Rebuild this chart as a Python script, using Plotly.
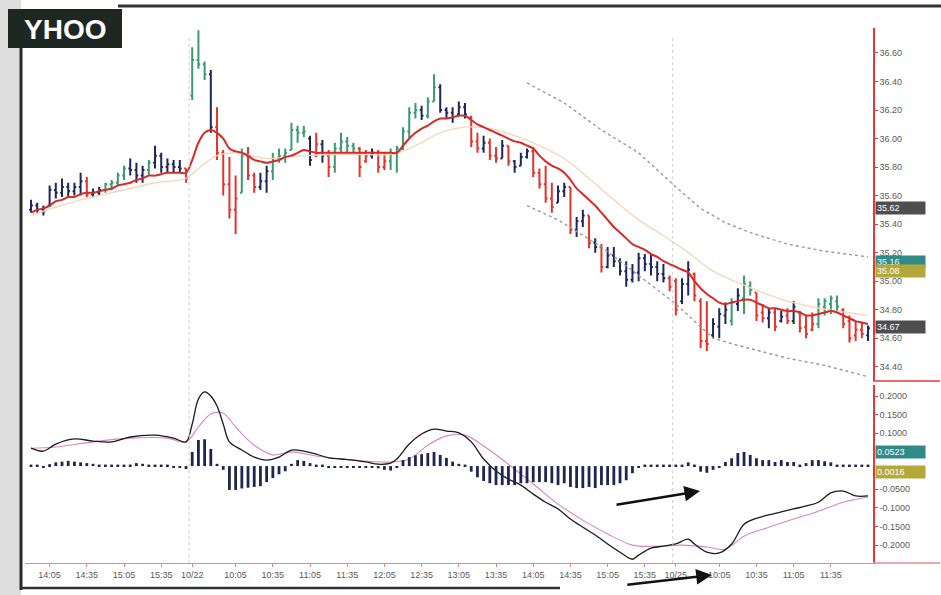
import plotly.graph_objects as go

# ---------------- DATA ----------------
# x axis: one 5-minute bar per index; tick labels at these bar indices
tick_idx = [3, 9, 15, 21, 26, 33, 39, 45, 51, 57, 63, 69, 75, 81, 87, 93, 99, 104, 111, 117, 123, 129]
tick_text = ["14:05", "14:35", "15:05", "15:35", "10/22", "10:05", "10:35", "11:05", "11:35",
             "12:05", "12:35", "13:05", "13:35", "14:05", "14:35", "15:05", "15:35", "10/25",
             "10:05", "10:35", "11:05", "11:35"]
day_starts = [26, 104]

bar_high = [
    35.57, 35.55, 35.53, 35.67, 35.69, 35.72, 35.69, 35.69, 35.76, 35.73,
    35.65, 35.66, 35.69, 35.71, 35.76, 35.81, 35.86, 35.83, 35.81, 35.85,
    35.95, 35.90, 35.86, 35.85, 35.85, 35.79,
    36.64, 36.76, 36.54, 36.48, 36.22, 35.92, 35.87, 35.74, 35.93, 35.94,
    35.76, 35.76, 35.81, 35.90, 35.93, 35.93, 36.11, 36.09, 36.09, 36.02,
    36.04, 35.99, 35.92, 35.97, 36.04, 36.01, 35.97, 35.94, 35.92, 35.93,
    35.92, 35.90, 35.93, 35.95, 36.08, 36.22, 36.25, 36.23, 36.29, 36.45,
    36.38, 36.22, 36.22, 36.26, 36.25, 36.16, 36.04, 36.02, 36.00, 35.94,
    35.99, 35.95, 35.85, 35.90, 35.93, 35.94, 35.79, 35.81, 35.69, 35.67,
    35.69, 35.66, 35.45, 35.50, 35.46, 35.30, 35.26, 35.24, 35.24, 35.16,
    35.14, 35.12, 35.20, 35.19, 35.19, 35.14, 35.12, 35.04,
    35.02, 35.02, 35.14, 35.06, 34.88, 34.86, 34.74, 34.81, 34.85, 34.88,
    34.95, 35.04, 35.00, 34.92, 34.84, 34.81, 34.81, 34.79, 34.81, 34.86,
    34.79, 34.76, 34.78, 34.88, 34.88, 34.90, 34.90, 34.81, 34.76, 34.72,
    34.71, 34.69]
bar_low = [
    35.48, 35.48, 35.46, 35.52, 35.58, 35.59, 35.59, 35.60, 35.60, 35.59,
    35.59, 35.60, 35.62, 35.64, 35.67, 35.71, 35.74, 35.69, 35.69, 35.74,
    35.79, 35.76, 35.76, 35.76, 35.76, 35.69,
    36.27, 36.49, 36.41, 36.04, 35.85, 35.60, 35.44, 35.33, 35.62, 35.71,
    35.62, 35.64, 35.62, 35.71, 35.83, 35.83, 35.92, 35.97, 36.01, 35.81,
    35.87, 35.83, 35.73, 35.76, 35.90, 35.90, 35.90, 35.73, 35.83, 35.86,
    35.76, 35.78, 35.78, 35.76, 35.92, 36.00, 36.14, 36.13, 36.14, 36.26,
    36.18, 36.14, 36.11, 36.16, 36.14, 35.94, 35.90, 35.90, 35.85, 35.83,
    35.86, 35.81, 35.76, 35.81, 35.86, 35.73, 35.65, 35.55, 35.48, 35.55,
    35.59, 35.33, 35.31, 35.38, 35.23, 35.20, 35.06, 35.09, 35.10, 35.04,
    34.96, 34.99, 35.00, 35.07, 35.04, 35.00, 34.99, 34.93,
    34.76, 34.84, 34.90, 34.86, 34.53, 34.51, 34.60, 34.60, 34.70, 34.69,
    34.79, 34.77, 34.90, 34.72, 34.71, 34.67, 34.65, 34.71, 34.70, 34.70,
    34.64, 34.60, 34.65, 34.67, 34.76, 34.77, 34.78, 34.67, 34.57, 34.58,
    34.60, 34.58]
bar_open = [
    35.50, 35.53, 35.50, 35.53, 35.64, 35.62, 35.66, 35.63, 35.66, 35.70,
    35.61, 35.62, 35.64, 35.68, 35.69, 35.74, 35.79, 35.78, 35.74, 35.78,
    35.83, 35.88, 35.80, 35.82, 35.80, 35.79,
    36.30, 36.55, 36.52, 36.45, 36.08, 35.90, 35.68, 35.50, 35.62, 35.88,
    35.74, 35.66, 35.70, 35.77, 35.86, 35.88, 35.92, 36.06, 36.04, 36.00,
    35.88, 35.96, 35.88, 35.80, 35.93, 35.98, 35.95, 35.93, 35.84, 35.88,
    35.90, 35.80, 35.84, 35.90, 35.93, 36.05, 36.18, 36.20, 36.16, 36.26,
    36.36, 36.20, 36.18, 36.17, 36.22, 36.15, 35.98, 35.93, 35.97, 35.88,
    35.86, 35.95, 35.84, 35.81, 35.87, 35.91, 35.76, 35.68, 35.58, 35.55,
    35.63, 35.66, 35.36, 35.42, 35.46, 35.27, 35.24, 35.10, 35.18, 35.14,
    35.07, 35.01, 35.06, 35.16, 35.12, 35.10, 35.05, 35.02,
    35.00, 34.86, 34.98, 35.05, 34.86, 34.58, 34.62, 34.68, 34.76, 34.72,
    34.84, 34.88, 34.96, 34.92, 34.78, 34.74, 34.78, 34.72, 34.76, 34.72,
    34.78, 34.68, 34.66, 34.70, 34.82, 34.84, 34.86, 34.80, 34.72, 34.62,
    34.66, 34.62]
bar_close = [
    35.53, 35.50, 35.49, 35.64, 35.62, 35.66, 35.63, 35.66, 35.70, 35.61,
    35.62, 35.64, 35.68, 35.69, 35.74, 35.79, 35.78, 35.74, 35.78, 35.83,
    35.88, 35.80, 35.82, 35.80, 35.79, 35.72,
    36.55, 36.52, 36.45, 36.08, 35.90, 35.68, 35.50, 35.58, 35.88, 35.74,
    35.66, 35.70, 35.77, 35.86, 35.88, 35.90, 36.06, 36.04, 36.05, 35.85,
    35.96, 35.88, 35.80, 35.93, 35.98, 35.95, 35.93, 35.80, 35.88, 35.90,
    35.80, 35.84, 35.90, 35.93, 36.05, 36.18, 36.20, 36.16, 36.26, 36.36,
    36.20, 36.18, 36.15, 36.22, 36.17, 35.98, 35.93, 35.97, 35.88, 35.86,
    35.95, 35.84, 35.80, 35.87, 35.91, 35.76, 35.68, 35.58, 35.52, 35.63,
    35.66, 35.36, 35.42, 35.46, 35.27, 35.24, 35.10, 35.18, 35.14, 35.07,
    35.01, 35.06, 35.16, 35.12, 35.10, 35.05, 35.02, 34.96,
    34.80, 34.98, 35.08, 34.90, 34.58, 34.56, 34.70, 34.77, 34.80, 34.85,
    34.90, 34.98, 34.94, 34.76, 34.74, 34.78, 34.68, 34.75, 34.72, 34.82,
    34.67, 34.63, 34.70, 34.84, 34.86, 34.88, 34.82, 34.70, 34.60, 34.66,
    34.63, 34.67]
# impulse colour of each bar: g = green, n = navy, r = red
bar_color = ("nnnnnnnnnrnnggggnnngnnnnnr"
             "gggnrrrrgr" "rnnggggggn" "rnrggggrrn" "rrgggggngg"
             "nnnnnrrnrr" "nrnnnrrrrn" "nrnnrnrnnn" "nnnnnnnr"
             "rnnrrrnnng" "nggrrnrnrn" "rrrggggrrr" "rn")

ema_fast = [
    35.48, 35.50, 35.51, 35.53, 35.56, 35.57, 35.59, 35.59, 35.61, 35.62,
    35.62, 35.63, 35.64, 35.65, 35.67, 35.68, 35.69, 35.71, 35.72, 35.74,
    35.74, 35.75, 35.76, 35.76, 35.76, 35.76,
    35.85, 35.97, 36.04, 36.06, 36.04, 36.00, 35.93, 35.91, 35.90, 35.88,
    35.85, 35.84, 35.83, 35.84, 35.85, 35.87, 35.88, 35.90, 35.92, 35.91,
    35.90, 35.90, 35.90, 35.90, 35.90, 35.90, 35.90, 35.90, 35.90, 35.90,
    35.90, 35.90, 35.90, 35.90, 35.95, 36.00, 36.04, 36.07, 36.09, 36.12,
    36.14, 36.14, 36.15, 36.16, 36.16, 36.13, 36.10, 36.08, 36.06, 36.04,
    36.02, 36.00, 35.98, 35.97, 35.95, 35.93, 35.88, 35.84, 35.81, 35.79,
    35.76, 35.71, 35.65, 35.61, 35.57, 35.53, 35.48, 35.43, 35.38, 35.34,
    35.30, 35.26, 35.24, 35.22, 35.19, 35.17, 35.14, 35.12,
    35.10, 35.08, 35.06, 35.00, 34.95, 34.91, 34.88, 34.85, 34.84, 34.85,
    34.86, 34.87, 34.87, 34.85, 34.83, 34.81, 34.81, 34.80, 34.79, 34.79,
    34.78, 34.76, 34.76, 34.77, 34.78, 34.79, 34.78, 34.76, 34.74, 34.72,
    34.71, 34.70]

slow_idx = [0, 4, 8, 12, 16, 20, 25, 27, 30, 33, 38, 44, 52, 58, 62, 66, 70, 74, 78, 82,
            86, 90, 94, 98, 102, 106, 110, 114, 118, 122, 126, 130, 135]
ema_slow = [35.46, 35.52, 35.57, 35.61, 35.65, 35.69, 35.72, 35.79, 35.88, 35.90, 35.86,
            35.88, 35.89, 35.89, 35.95, 36.04, 36.08, 36.07, 36.02, 35.95, 35.86, 35.72,
            35.57, 35.43, 35.32, 35.20, 35.07, 34.99, 34.92, 34.86, 34.82, 34.79, 34.76]

upper_idx = [80, 86, 92, 98, 104, 108, 112, 116, 122, 128, 135]
upper_band = [36.39, 36.25, 36.06, 35.90, 35.66, 35.51, 35.41, 35.34, 35.26, 35.21, 35.17]
lower_idx = [80, 85, 92, 98, 104, 110, 114, 122, 128, 135]
lower_band = [35.53, 35.43, 35.24, 35.04, 34.84, 34.60, 34.55, 34.46, 34.41, 34.33]

macd_idx = [0, 2, 4, 7, 10, 13, 16, 20, 23, 25, 26, 27, 28, 29, 30, 31, 32, 34, 36, 38,
            40, 42, 44, 46, 48, 50, 52, 54, 56, 58, 59, 61, 63, 65, 67, 69, 71, 73, 75, 77,
            79, 81, 83, 85, 87, 89, 91, 93, 95, 97, 98, 100, 102, 104, 106, 107, 109, 111,
            113, 115, 117, 119, 121, 123, 125, 127, 129, 131, 133, 135]
macd_line = [0.060, 0.052, 0.071, 0.085, 0.079, 0.077, 0.090, 0.095, 0.087, 0.077,
             0.125, 0.192, 0.211, 0.200, 0.173, 0.125, 0.077, 0.055, 0.036, 0.028,
             0.036, 0.055, 0.052, 0.044, 0.034, 0.031, 0.028, 0.023, 0.017, 0.020,
             0.031, 0.071, 0.098, 0.111, 0.106, 0.101, 0.077, 0.031, -0.001, -0.023,
             -0.039, -0.063, -0.085, -0.103, -0.130, -0.152, -0.173, -0.197, -0.219, -0.238,
             -0.227, -0.208, -0.203, -0.197, -0.184, -0.197, -0.219, -0.221, -0.197, -0.144,
             -0.128, -0.119, -0.111, -0.103, -0.095, -0.085, -0.060, -0.055, -0.068, -0.068]
signal_idx = [0, 4, 10, 16, 22, 25, 27, 29, 31, 33, 36, 39, 42, 46, 52, 58, 61, 64, 67, 70,
              73, 77, 81, 85, 89, 93, 97, 101, 105, 109, 112, 115, 119, 123, 127, 131, 135]
signal_line = [0.060, 0.063, 0.077, 0.087, 0.087, 0.077, 0.117, 0.152, 0.154, 0.117,
               0.068, 0.042, 0.050, 0.039, 0.028, 0.023, 0.031, 0.068, 0.093, 0.095,
               0.066, 0.017, -0.036, -0.090, -0.133, -0.170, -0.200, -0.203, -0.200, -0.205,
               -0.211, -0.176, -0.152, -0.130, -0.109, -0.085, -0.071]
histogram = [
    0.004, 0.004, -0.004, 0.005, 0.010, 0.012, 0.014, 0.012, 0.010, 0.008,
    0.006, 0.004, 0.004, 0.004, 0.004, 0.004, 0.004, 0.008, 0.006, 0.004,
    0.004, 0.004, 0.004, -0.004, -0.004, -0.008,
    0.038, 0.070, 0.072, 0.046, 0.006, -0.010, -0.064, -0.064, -0.060, -0.058,
    -0.056, -0.054, -0.043, -0.032, -0.022, -0.014, 0.006, 0.016, 0.014, 0.008,
    0.004, 0.004, -0.005, -0.004, -0.004, -0.004, -0.004, -0.004, -0.004, -0.004,
    -0.006, -0.010, -0.012, -0.004, 0.016, 0.024, 0.029, 0.032, 0.035, 0.038,
    0.030, 0.022, 0.012, 0.006, 0.004, -0.015, -0.030, -0.040, -0.046, -0.051,
    -0.051, -0.051, -0.051, -0.046, -0.046, -0.043, -0.043, -0.043, -0.046, -0.051,
    -0.046, -0.056, -0.059, -0.059, -0.056, -0.059, -0.051, -0.051, -0.051, -0.046,
    -0.038, -0.019, -0.004, 0.004, 0.004, 0.004, 0.004, 0.004,
    0.004, 0.004, 0.010, 0.004, -0.015, -0.018, -0.010, -0.005, 0.011, 0.021,
    0.035, 0.038, 0.030, 0.021, 0.016, 0.016, 0.011, 0.016, 0.011, 0.011,
    0.004, 0.008, 0.016, 0.016, 0.013, 0.010, 0.004, 0.004, 0.004, 0.004,
    0.004, 0.004]

price_ticks = [36.60, 36.40, 36.20, 36.00, 35.80, 35.60, 35.40, 35.20, 35.00, 34.80, 34.60, 34.40]
macd_ticks = [0.20, 0.15, 0.10, -0.05, -0.10, -0.15, -0.20]

# value badges on the right scale: (text, axis, position, colour)
badges = [("35.62", "y", 35.51, "#4e4e4e"), ("35.16", "y", 35.135, "#2f8a88"),
          ("35.08", "y", 35.07, "#b3a93a"), ("34.67", "y", 34.68, "#4e4e4e"),
          ("0.0523", "y2", 0.050, "#2f8a88"), ("0.0016", "y2", -0.003, "#b3a93a")]

n = len(bar_high)
assert len(bar_low) == n and len(bar_open) == n and len(bar_close) == n
assert len(bar_color) == n and len(ema_fast) == n and len(histogram) == n
assert len(slow_idx) == len(ema_slow) and len(macd_idx) == len(macd_line)
assert len(signal_idx) == len(signal_line)

# ---------------- FIGURE ----------------
W, H = 941, 595
ML, MR, MT, MB = 25, 68, 28, 32
PW, PH = W - ML - MR, H - MT - MB


def px(xp):  # figure pixel -> paper x
    return (xp - ML) / PW


def py(yp):  # figure pixel -> paper y
    return (H - MB - yp) / PH


AXIS_RED = "#e23a3a"
TICK_FONT = dict(family="Liberation Sans, Arial, sans-serif", size=9, color="#5a5a5a")
xrange_ = [-0.97, 135.8]

fig = go.Figure()

# bands
fig.add_trace(go.Scatter(x=upper_idx, y=upper_band, mode="lines", xaxis="x", yaxis="y",
                         line=dict(color="#9a9a9a", width=1.4, dash="dot"), hoverinfo="skip"))
fig.add_trace(go.Scatter(x=lower_idx, y=lower_band, mode="lines", xaxis="x", yaxis="y",
                         line=dict(color="#9a9a9a", width=1.4, dash="dot"), hoverinfo="skip"))

# OHLC bars, one trace per impulse colour
bar_palette = {"g": "#3c9a6e", "n": "#1e2858", "r": "#e2342c"}
for key, col in bar_palette.items():
    sel = [i for i, c in enumerate(bar_color) if c == key]
    fig.add_trace(go.Ohlc(
        x=sel,
        open=[bar_open[i] for i in sel], high=[bar_high[i] for i in sel],
        low=[bar_low[i] for i in sel], close=[bar_close[i] for i in sel],
        increasing=dict(line=dict(color=col, width=2)),
        decreasing=dict(line=dict(color=col, width=2)),
        tickwidth=0.3, xaxis="x", yaxis="y", hoverinfo="skip"))

# moving averages
fig.add_trace(go.Scatter(x=slow_idx, y=ema_slow, mode="lines", xaxis="x", yaxis="y",
                         line=dict(color="#f8d6bb", width=1.4, shape="spline"), hoverinfo="skip"))
fig.add_trace(go.Scatter(x=list(range(n)), y=ema_fast, mode="lines", xaxis="x", yaxis="y",
                         line=dict(color="#d42b2b", width=2, shape="spline"), hoverinfo="skip"))

# MACD panel
fig.add_trace(go.Bar(x=list(range(n)), y=histogram, xaxis="x2", yaxis="y3", width=0.45,
                     marker=dict(color="#1e2550", line=dict(width=0)), hoverinfo="skip"))
fig.add_trace(go.Scatter(x=signal_idx, y=signal_line, mode="lines", xaxis="x2", yaxis="y2",
                         line=dict(color="#d786c4", width=1.1, shape="spline"), hoverinfo="skip"))
fig.add_trace(go.Scatter(x=macd_idx, y=macd_line, mode="lines", xaxis="x2", yaxis="y2",
                         line=dict(color="#1b1b1b", width=1.3, shape="spline"), hoverinfo="skip"))

shapes = []
# day separators
for d in day_starts:
    shapes.append(dict(type="line", xref="x", yref="paper", x0=d - 0.5, x1=d - 0.5,
                       y0=0, y1=0.985, line=dict(color="#cfcfcf", width=1, dash="dot")))
# red separators in the scale area
shapes.append(dict(type="line", xref="paper", yref="paper", x0=1, x1=px(940),
                   y0=py(381), y1=py(381), line=dict(color=AXIS_RED, width=1.3)))
shapes.append(dict(type="line", xref="paper", yref="paper", x0=1, x1=px(940),
                   y0=0, y1=0, line=dict(color="#e98a8a", width=1.3)))
# page frame from the scan
shapes.append(dict(type="rect", xref="paper", yref="paper", x0=px(0), x1=px(21),
                   y0=py(595), y1=py(0), fillcolor="#dedede", line=dict(width=0), layer="below"))
shapes.append(dict(type="line", xref="paper", yref="paper", x0=px(21), x1=px(21),
                   y0=py(48), y1=py(590), line=dict(color="#2b2b2b", width=3)))
shapes.append(dict(type="line", xref="paper", yref="paper", x0=px(118), x1=px(941),
                   y0=py(6), y1=py(6), line=dict(color="#333333", width=3)))
shapes.append(dict(type="line", xref="paper", yref="paper", x0=px(21), x1=px(560),
                   y0=py(588), y1=py(588), line=dict(color="#333333", width=2.5)))
shapes.append(dict(type="rect", xref="paper", yref="paper", x0=px(8), x1=px(122),
                   y0=py(48), y1=py(9), fillcolor="#1f2722", line=dict(width=0)))

annotations = [dict(xref="paper", yref="paper", x=px(65), y=py(29), xanchor="center",
                    yanchor="middle", text="<b>YHOO</b>", showarrow=False,
                    font=dict(family="Liberation Sans, Arial", size=28, color="white"))]
for txt, ax_ref, val, col in badges:
    annotations.append(dict(xref="paper", yref=ax_ref, x=px(875), y=val, xanchor="left",
                            yanchor="middle", text=txt, showarrow=False, bgcolor=col,
                            width=47, height=10, borderpad=1, align="left",
                            font=dict(family="Liberation Sans, Arial", size=9, color="white")))
# the two hand-drawn arrows
annotations.append(dict(xref="x2", yref="y2", x=107.9, y=-0.055, ax=-85, ay=14, text="",
                        showarrow=True, arrowhead=2, arrowsize=1.2, arrowwidth=2.6,
                        arrowcolor="#111111"))
annotations.append(dict(xref="x2", yref="paper", x=109.8, y=py(575), ax=-86, ay=10, text="",
                        showarrow=True, arrowhead=2, arrowsize=1.2, arrowwidth=2.6,
                        arrowcolor="#111111"))

fig.update_layout(
    width=W, height=H, margin=dict(l=ML, r=MR, t=MT, b=MB),
    paper_bgcolor="white", plot_bgcolor="white", showlegend=False,
    shapes=shapes, annotations=annotations,
    xaxis=dict(domain=[0, 1], anchor="y", range=xrange_, showticklabels=False, ticks="",
               showgrid=False, zeroline=False, showline=False, rangeslider=dict(visible=False)),
    yaxis=dict(domain=[py(381), 1], anchor="x", side="right", range=[34.30, 36.775],
               tickvals=price_ticks, ticktext=[f"{v:.2f}" for v in price_ticks],
               showgrid=False, zeroline=False, showline=True, linecolor=AXIS_RED, linewidth=1.5,
               ticks="outside", ticklen=3, tickcolor=AXIS_RED, tickfont=TICK_FONT),
    xaxis2=dict(domain=[0, 1], anchor="y2", range=xrange_, tickvals=tick_idx, ticktext=tick_text,
                showgrid=False, zeroline=False, showline=True, linecolor="#e98a8a", linewidth=1.3,
                ticks="outside", ticklen=3, tickcolor="#e98a8a", tickfont=TICK_FONT, tickangle=0,
                rangeslider=dict(visible=False)),
    yaxis2=dict(domain=[0, py(385)], anchor="x2", side="right", range=[-0.248, 0.2295],
                tickvals=macd_ticks, ticktext=[f"{v:.4f}" for v in macd_ticks],
                showgrid=False, zeroline=False, showline=True, linecolor=AXIS_RED, linewidth=1.5,
                ticks="outside", ticklen=3, tickcolor=AXIS_RED, tickfont=TICK_FONT),
    yaxis3=dict(overlaying="y2", anchor="x2", range=[-0.260, 0.2175], visible=False),
)

# remove the browser's default 8px page margin so the figure sits at the window origin
fig.write_html("out.html", config={"displayModeBar": False},
               post_script="document.body.style.margin='0px';")
